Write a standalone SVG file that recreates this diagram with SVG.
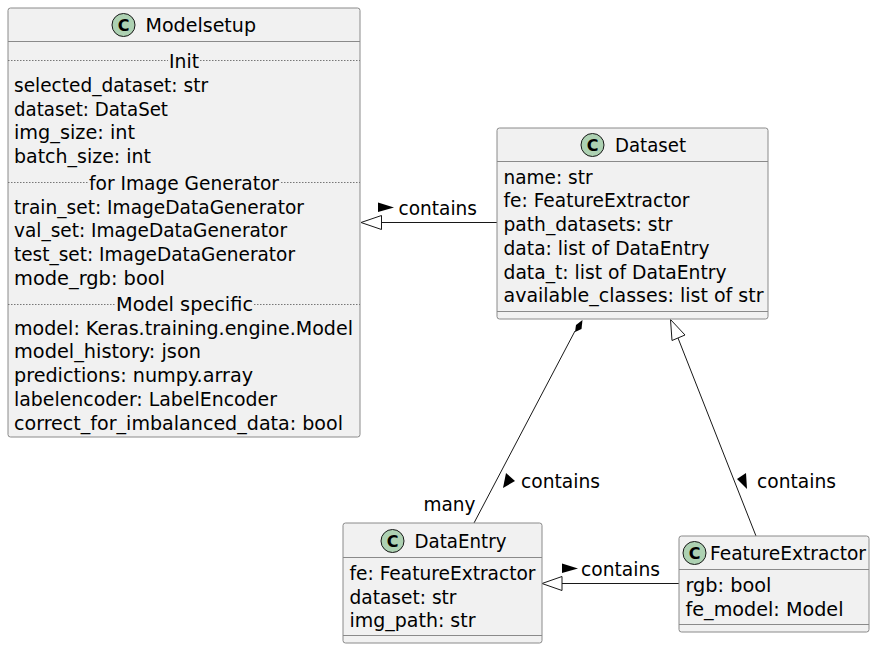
<svg xmlns="http://www.w3.org/2000/svg" width="876" height="649" viewBox="0 0 876 649">
<style>
text{font-family:"DejaVu Sans","Liberation Sans",sans-serif;font-size:19px;fill:#000}
.box{fill:#f1f1f1;stroke:#8a8a8a;stroke-width:1}
.sep{stroke:#8a8a8a;stroke-width:1;fill:none}
.dot{stroke:#777;stroke-width:1;stroke-dasharray:1.5 1.5;fill:none}
.circ{fill:#add1b2;stroke:#181818;stroke-width:1}
text.c{font-size:16px;font-weight:700;text-anchor:middle}
.ln{stroke:#181818;stroke-width:1;fill:none}
.open{fill:#fff;stroke:#181818;stroke-width:1}
.solid{fill:#000;stroke:none}
.sp{fill:#f1f1f1}
</style>
<rect width="876" height="649" fill="#fff"/>
<g id="connectors">
<line class="ln" x1="381" y1="222.500" x2="497" y2="222.500"/>
<polygon class="open" points="361,222.500 381.500,215.500 381.500,229.500"/>
<polygon class="solid" points="378,202.500 394,207.500 378,212"/>
<text x="398.500" y="215" textLength="78.500" lengthAdjust="spacingAndGlyphs">contains</text>
<line class="ln" x1="575" y1="331" x2="474" y2="523"/>
<polygon class="solid" points="582.500,320 581.500,329 575,332 576,325"/>
<polygon class="solid" points="506,473 515,481 503,488"/>
<text x="521" y="488" textLength="79" lengthAdjust="spacingAndGlyphs">contains</text>
<text x="423.500" y="511" textLength="52" lengthAdjust="spacingAndGlyphs">many</text>
<line class="ln" x1="678" y1="338" x2="756" y2="536"/>
<polygon class="open" points="670.500,319.500 685,335 672,340.500"/>
<polygon class="solid" points="746,473 737,479 747,489"/>
<text x="757" y="488" textLength="79" lengthAdjust="spacingAndGlyphs">contains</text>
<line class="ln" x1="562" y1="583.500" x2="679" y2="583.500"/>
<polygon class="open" points="542,583.500 562,576.500 562,590.500"/>
<polygon class="solid" points="562,563.500 578,568.500 562,573"/>
<text x="581" y="576" textLength="79" lengthAdjust="spacingAndGlyphs">contains</text>
</g>
<g id="Modelsetup">
<rect class="box" x="8" y="8" width="352" height="429" rx="2.500"/>
<line class="sep" x1="8" y1="41.500" x2="360" y2="41.500"/>
<circle class="circ" cx="123.500" cy="25" r="11.500"/><text class="c" x="123.500" y="30.500">C</text>
<text x="145.500" y="32" textLength="110.500" lengthAdjust="spacingAndGlyphs">Modelsetup</text>
<line class="dot" x1="8" y1="60.500" x2="360" y2="60.500"/>
<rect class="sp" x="168" y="50" width="32" height="22"/>
<text x="169" y="68" textLength="30" lengthAdjust="spacingAndGlyphs">Init</text>
<text x="14" y="92" textLength="194" lengthAdjust="spacingAndGlyphs">selected_dataset: str</text>
<text x="14" y="115.500" textLength="154" lengthAdjust="spacingAndGlyphs">dataset: DataSet</text>
<text x="14" y="139" textLength="121" lengthAdjust="spacingAndGlyphs">img_size: int</text>
<text x="14" y="162.500" textLength="137" lengthAdjust="spacingAndGlyphs">batch_size: int</text>
<line class="dot" x1="8" y1="182.500" x2="360" y2="182.500"/>
<rect class="sp" x="88" y="172" width="192" height="22"/>
<text x="89" y="190" textLength="190" lengthAdjust="spacingAndGlyphs">for Image Generator</text>
<text x="14" y="213.500" textLength="290" lengthAdjust="spacingAndGlyphs">train_set: ImageDataGenerator</text>
<text x="14" y="237" textLength="273" lengthAdjust="spacingAndGlyphs">val_set: ImageDataGenerator</text>
<text x="14" y="261" textLength="281" lengthAdjust="spacingAndGlyphs">test_set: ImageDataGenerator</text>
<text x="14" y="284.500" textLength="151" lengthAdjust="spacingAndGlyphs">mode_rgb: bool</text>
<line class="dot" x1="8" y1="304.500" x2="360" y2="304.500"/>
<rect class="sp" x="115" y="294" width="138" height="22"/>
<text x="116" y="311" textLength="137" lengthAdjust="spacingAndGlyphs">Model specific</text>
<text x="14" y="334.500" textLength="339" lengthAdjust="spacingAndGlyphs">model: Keras.training.engine.Model</text>
<text x="14" y="358" textLength="187" lengthAdjust="spacingAndGlyphs">model_history: json</text>
<text x="14" y="382" textLength="239" lengthAdjust="spacingAndGlyphs">predictions: numpy.array</text>
<text x="14" y="405.500" textLength="263" lengthAdjust="spacingAndGlyphs">labelencoder: LabelEncoder</text>
<text x="14" y="429.500" textLength="329" lengthAdjust="spacingAndGlyphs">correct_for_imbalanced_data: bool</text>
</g>
<g id="Dataset">
<rect class="box" x="497" y="128" width="271" height="191" rx="2.500"/>
<line class="sep" x1="497" y1="161.500" x2="768" y2="161.500"/>
<line class="sep" x1="497" y1="311.500" x2="768" y2="311.500"/>
<circle class="circ" cx="592.500" cy="145" r="11.500"/><text class="c" x="592.500" y="150.500">C</text>
<text x="615" y="152" textLength="71" lengthAdjust="spacingAndGlyphs">Dataset</text>
<text x="503.500" y="183.500" textLength="89" lengthAdjust="spacingAndGlyphs">name: str</text>
<text x="503.500" y="207" textLength="186" lengthAdjust="spacingAndGlyphs">fe: FeatureExtractor</text>
<text x="503.500" y="231" textLength="169" lengthAdjust="spacingAndGlyphs">path_datasets: str</text>
<text x="503.500" y="254.500" textLength="206" lengthAdjust="spacingAndGlyphs">data: list of DataEntry</text>
<text x="503.500" y="278.500" textLength="223" lengthAdjust="spacingAndGlyphs">data_t: list of DataEntry</text>
<text x="503.500" y="302" textLength="260" lengthAdjust="spacingAndGlyphs">available_classes: list of str</text>
</g>
<g id="DataEntry">
<rect class="box" x="343" y="523" width="199" height="120" rx="2.500"/>
<line class="sep" x1="343" y1="557.500" x2="542" y2="557.500"/>
<line class="sep" x1="343" y1="635.500" x2="542" y2="635.500"/>
<circle class="circ" cx="392.500" cy="541" r="11.500"/><text class="c" x="392.500" y="546.500">C</text>
<text x="414.500" y="548" textLength="92" lengthAdjust="spacingAndGlyphs">DataEntry</text>
<text x="349.500" y="580" textLength="186" lengthAdjust="spacingAndGlyphs">fe: FeatureExtractor</text>
<text x="349.500" y="604" textLength="107" lengthAdjust="spacingAndGlyphs">dataset: str</text>
<text x="349.500" y="627" textLength="126" lengthAdjust="spacingAndGlyphs">img_path: str</text>
</g>
<g id="FeatureExtractor">
<rect class="box" x="679" y="536" width="190" height="96" rx="2.500"/>
<line class="sep" x1="679" y1="569.500" x2="869" y2="569.500"/>
<line class="sep" x1="679" y1="624.500" x2="869" y2="624.500"/>
<circle class="circ" cx="694.500" cy="553" r="11.500"/><text class="c" x="694.500" y="558.500">C</text>
<text x="710" y="560" textLength="156" lengthAdjust="spacingAndGlyphs">FeatureExtractor</text>
<text x="685.500" y="592" textLength="86" lengthAdjust="spacingAndGlyphs">rgb: bool</text>
<text x="685.500" y="616" textLength="158" lengthAdjust="spacingAndGlyphs">fe_model: Model</text>
</g>
</svg>
